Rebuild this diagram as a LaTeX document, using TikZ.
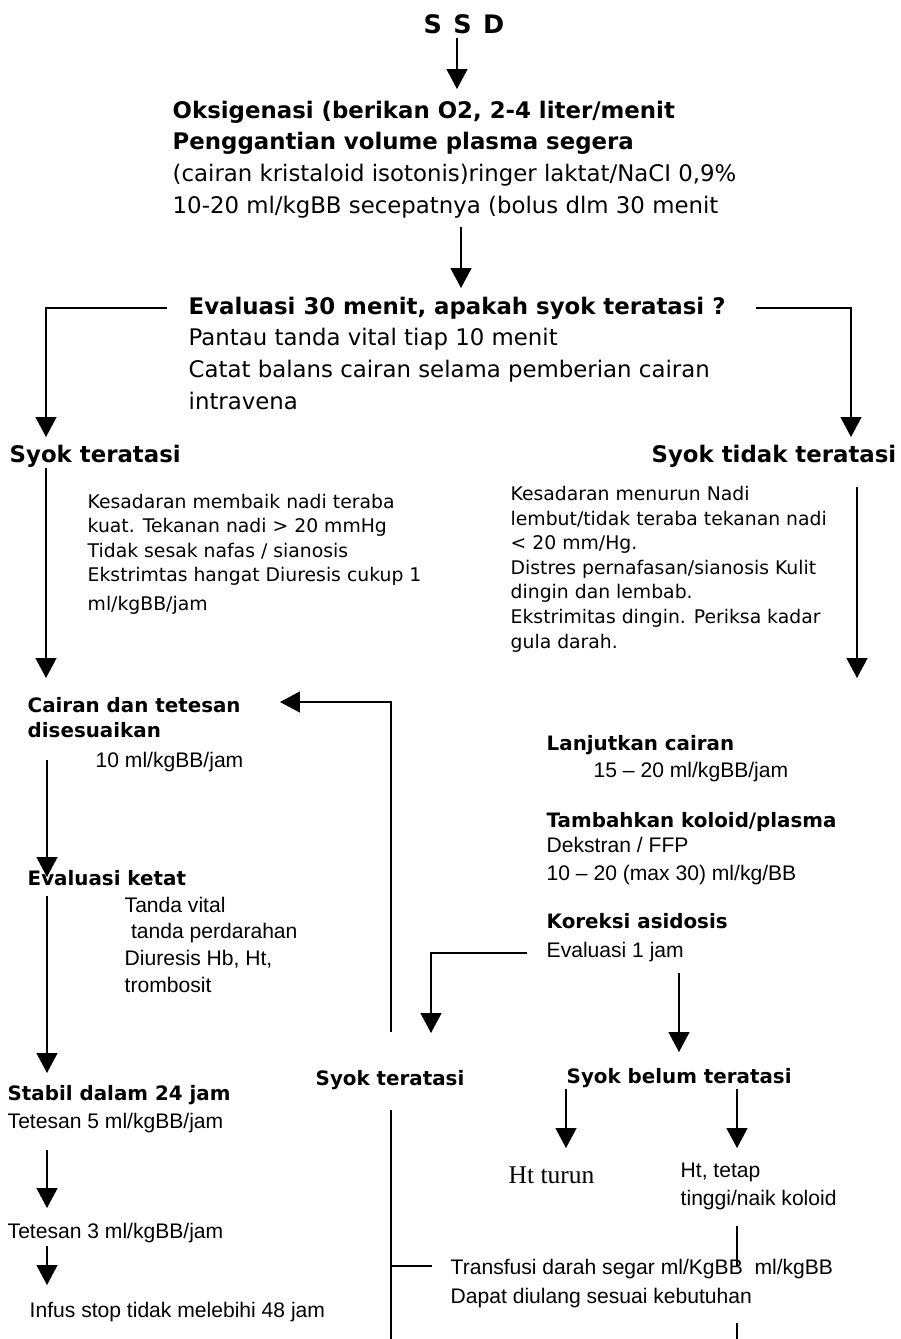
\documentclass[tikz,border=0pt]{standalone}
\usepackage{fontspec}
\setmainfont{Liberation Sans}
\newfontfamily\dejavu{DejaVu Sans}
\newfontfamily\timesfont{Liberation Serif}
\usetikzlibrary{arrows.meta}

\begin{document}
\begin{tikzpicture}[
  x=0.02cm,y=-0.02cm,
  >={Triangle[length=0.4cm,width=0.42cm]},
  line width=0.8pt,
  txt/.style={inner sep=0pt,anchor=base west,align=left},
  head/.style={txt,font=\dejavu\bfseries\fontsize{13pt}{18pt}\selectfont},
  upper/.style={txt,font=\dejavu\fontsize{13pt}{18pt}\selectfont},
  note/.style={txt,font=\dejavu\fontsize{10.7pt}{14pt}\selectfont},
  lbl/.style={txt,font=\dejavu\bfseries\fontsize{11.3pt}{14.2pt}\selectfont},
  body/.style={txt,font=\fontsize{12pt}{15.2pt}\selectfont}
]
\useasboundingbox (0,0) rectangle (901,1339);

% top part (multi-line nodes sit on their last baseline)
\node[txt,anchor=base,font=\dejavu\bfseries\fontsize{14.5pt}{18pt}\selectfont] (ssd) at (464,33)
  {S\hspace{6.5pt}S\hspace{6.5pt}D};
\node[upper] (oks) at (172,213)
  {\textbf{Oksigenasi (berikan O2, 2-4 liter/menit}\\
   \textbf{Penggantian volume plasma segera}\\
   (cairan kristaloid isotonis)ringer laktat/NaCI 0,9\%\\
   10-20 ml/kgBB secepatnya (bolus dlm 30 menit};
\node[upper] (eva) at (188,409)
  {\textbf{Evaluasi 30 menit, apakah syok teratasi ?}\\
   Pantau tanda vital tiap 10 menit\\
   Catat balans cairan selama pemberian cairan\\
   intravena};
\node[head] (ok1) at (9,462) {Syok teratasi};
\node[head,anchor=base east] (notok) at (897,462) {Syok tidak teratasi};
\node[note] (kes1) at (87,610)
  {Kesadaran membaik nadi teraba\\
   kuat. Tekanan nadi > 20 mmHg\\
   Tidak sesak nafas / sianosis\\
   Ekstrimtas hangat Diuresis cukup 1\\[2pt]
   ml/kgBB/jam};
\node[note] (kes2) at (510,648)
  {Kesadaran menurun Nadi\\
   lembut/tidak teraba tekanan nadi\\
   < 20 mm/Hg.\\
   Distres pernafasan/sianosis Kulit\\
   dingin dan lembab.\\
   Ekstrimitas dingin. Periksa kadar\\
   gula darah.};

% left column
\node[lbl] (cair) at (27,737) {Cairan dan tetesan\\disesuaikan};
\node[body] (cair2) at (95,767) {10 ml/kgBB/jam};
\node[lbl] (ketat) at (27,885) {Evaluasi ketat};
\node[body,font=\fontsize{12pt}{15.1pt}\selectfont] (ketat2) at (124,992)
  {Tanda vital\\
   \hspace{0.3em}tanda perdarahan\\
   Diuresis Hb, Ht,\\
   trombosit};
\node[lbl] (stab) at (7,1100) {Stabil dalam 24 jam};
\node[body] (tet5) at (7,1128) {Tetesan 5 ml/kgBB/jam};
\node[body] (tet3) at (7,1238) {Tetesan 3 ml/kgBB/jam};
\node[body] (infus) at (29,1317) {Infus stop tidak melebihi 48 jam};

% right column
\node[lbl] (lanj) at (546,750) {Lanjutkan cairan};
\node[body] (lanj2) at (593,777) {15 – 20 ml/kgBB/jam};
\node[lbl] (tamb) at (546,827) {Tambahkan koloid/plasma};
\node[body,font=\fontsize{12pt}{15.5pt}\selectfont] (tamb2) at (546,880) {Dekstran / FFP\\10 – 20 (max 30) ml/kg/BB};
\node[lbl] (kor) at (546,928) {Koreksi asidosis};
\node[body] (kor2) at (546,957) {Evaluasi 1 jam};
\node[lbl] (ok2) at (315,1085) {Syok teratasi};
\node[lbl] (belum) at (566,1083) {Syok belum teratasi};
\node[txt,font=\timesfont\fontsize{14.5pt}{16pt}\selectfont] (htt) at (508,1183) {Ht turun};
\node[body,font=\fontsize{12pt}{15.5pt}\selectfont] (htn) at (680,1205) {Ht, tetap\\tinggi/naik koloid};
\node[body,font=\fontsize{12pt}{16pt}\selectfont] (trans) at (450,1303)
  {Transfusi darah segar ml/KgBB\ \ ml/kgBB\\Dapat diulang sesuai kebutuhan};

% arrow ends
\coordinate (a1) at (457,89);
\coordinate (a2s) at (461,227);   \coordinate (a2) at (461,288);
\coordinate (bl) at (167,308);    \coordinate (blt) at (46,437);
\coordinate (br) at (756,308);    \coordinate (brt) at (851,437);
\coordinate (l1s) at (46,468);    \coordinate (l1) at (46,678);
\coordinate (r1s) at (857,487);   \coordinate (r1) at (857,678);
\coordinate (fb) at (391,1032);   \coordinate (fbt) at (280,702);
\coordinate (l2s) at (47,760);    \coordinate (l2) at (47,877);
\coordinate (l3s) at (47,896);    \coordinate (l3) at (47,1073);
\coordinate (ks) at (527,953);    \coordinate (kt) at (431,1033);
\coordinate (bs) at (679,973);    \coordinate (bt) at (679,1052);
\coordinate (h1s) at (566,1089);  \coordinate (h1) at (566,1148);
\coordinate (h2s) at (737,1089);  \coordinate (h2) at (737,1148);
\coordinate (l4s) at (47,1150);   \coordinate (l4) at (47,1208);
\coordinate (l5s) at (47,1246);   \coordinate (l5) at (47,1285);
\coordinate (ms) at (391,1110);   \coordinate (me) at (391,1339);
\coordinate (mb) at (391,1266);   \coordinate (mbe) at (432,1266);
\coordinate (ks1) at (737,1226);  \coordinate (ke1) at (737,1267);
\coordinate (ks2) at (737,1323);  \coordinate (ke2) at (737,1339);

% connectors
\draw[->] (ssd.south -| a1) ++(0,4) -- (a1);
\draw[->] (a2s) -- (a2);
\draw[->] (bl) -- (bl -| blt) -- (blt);
\draw[->] (br) -- (br -| brt) -- (brt);
\draw[->] (l1s) -- (l1);
\draw[->] (r1s) -- (r1);
\draw[->] (fb) -- (fb |- fbt) -- (fbt);
\draw[->] (l2s) -- (l2);
\draw[->] (l3s) -- (l3);
\draw[->] (ks) -- (ks -| kt) -- (kt);
\draw[->] (bs) -- (bt);
\draw[->] (h1s) -- (h1);
\draw[->] (h2s) -- (h2);
\draw[->] (l4s) -- (l4);
\draw[->] (l5s) -- (l5);
\draw (ms) -- (me);
\draw (mb) -- (mbe);
\draw (ks1) -- (ke1);
\draw (ks2) -- (ke2);
\end{tikzpicture}
\end{document}
